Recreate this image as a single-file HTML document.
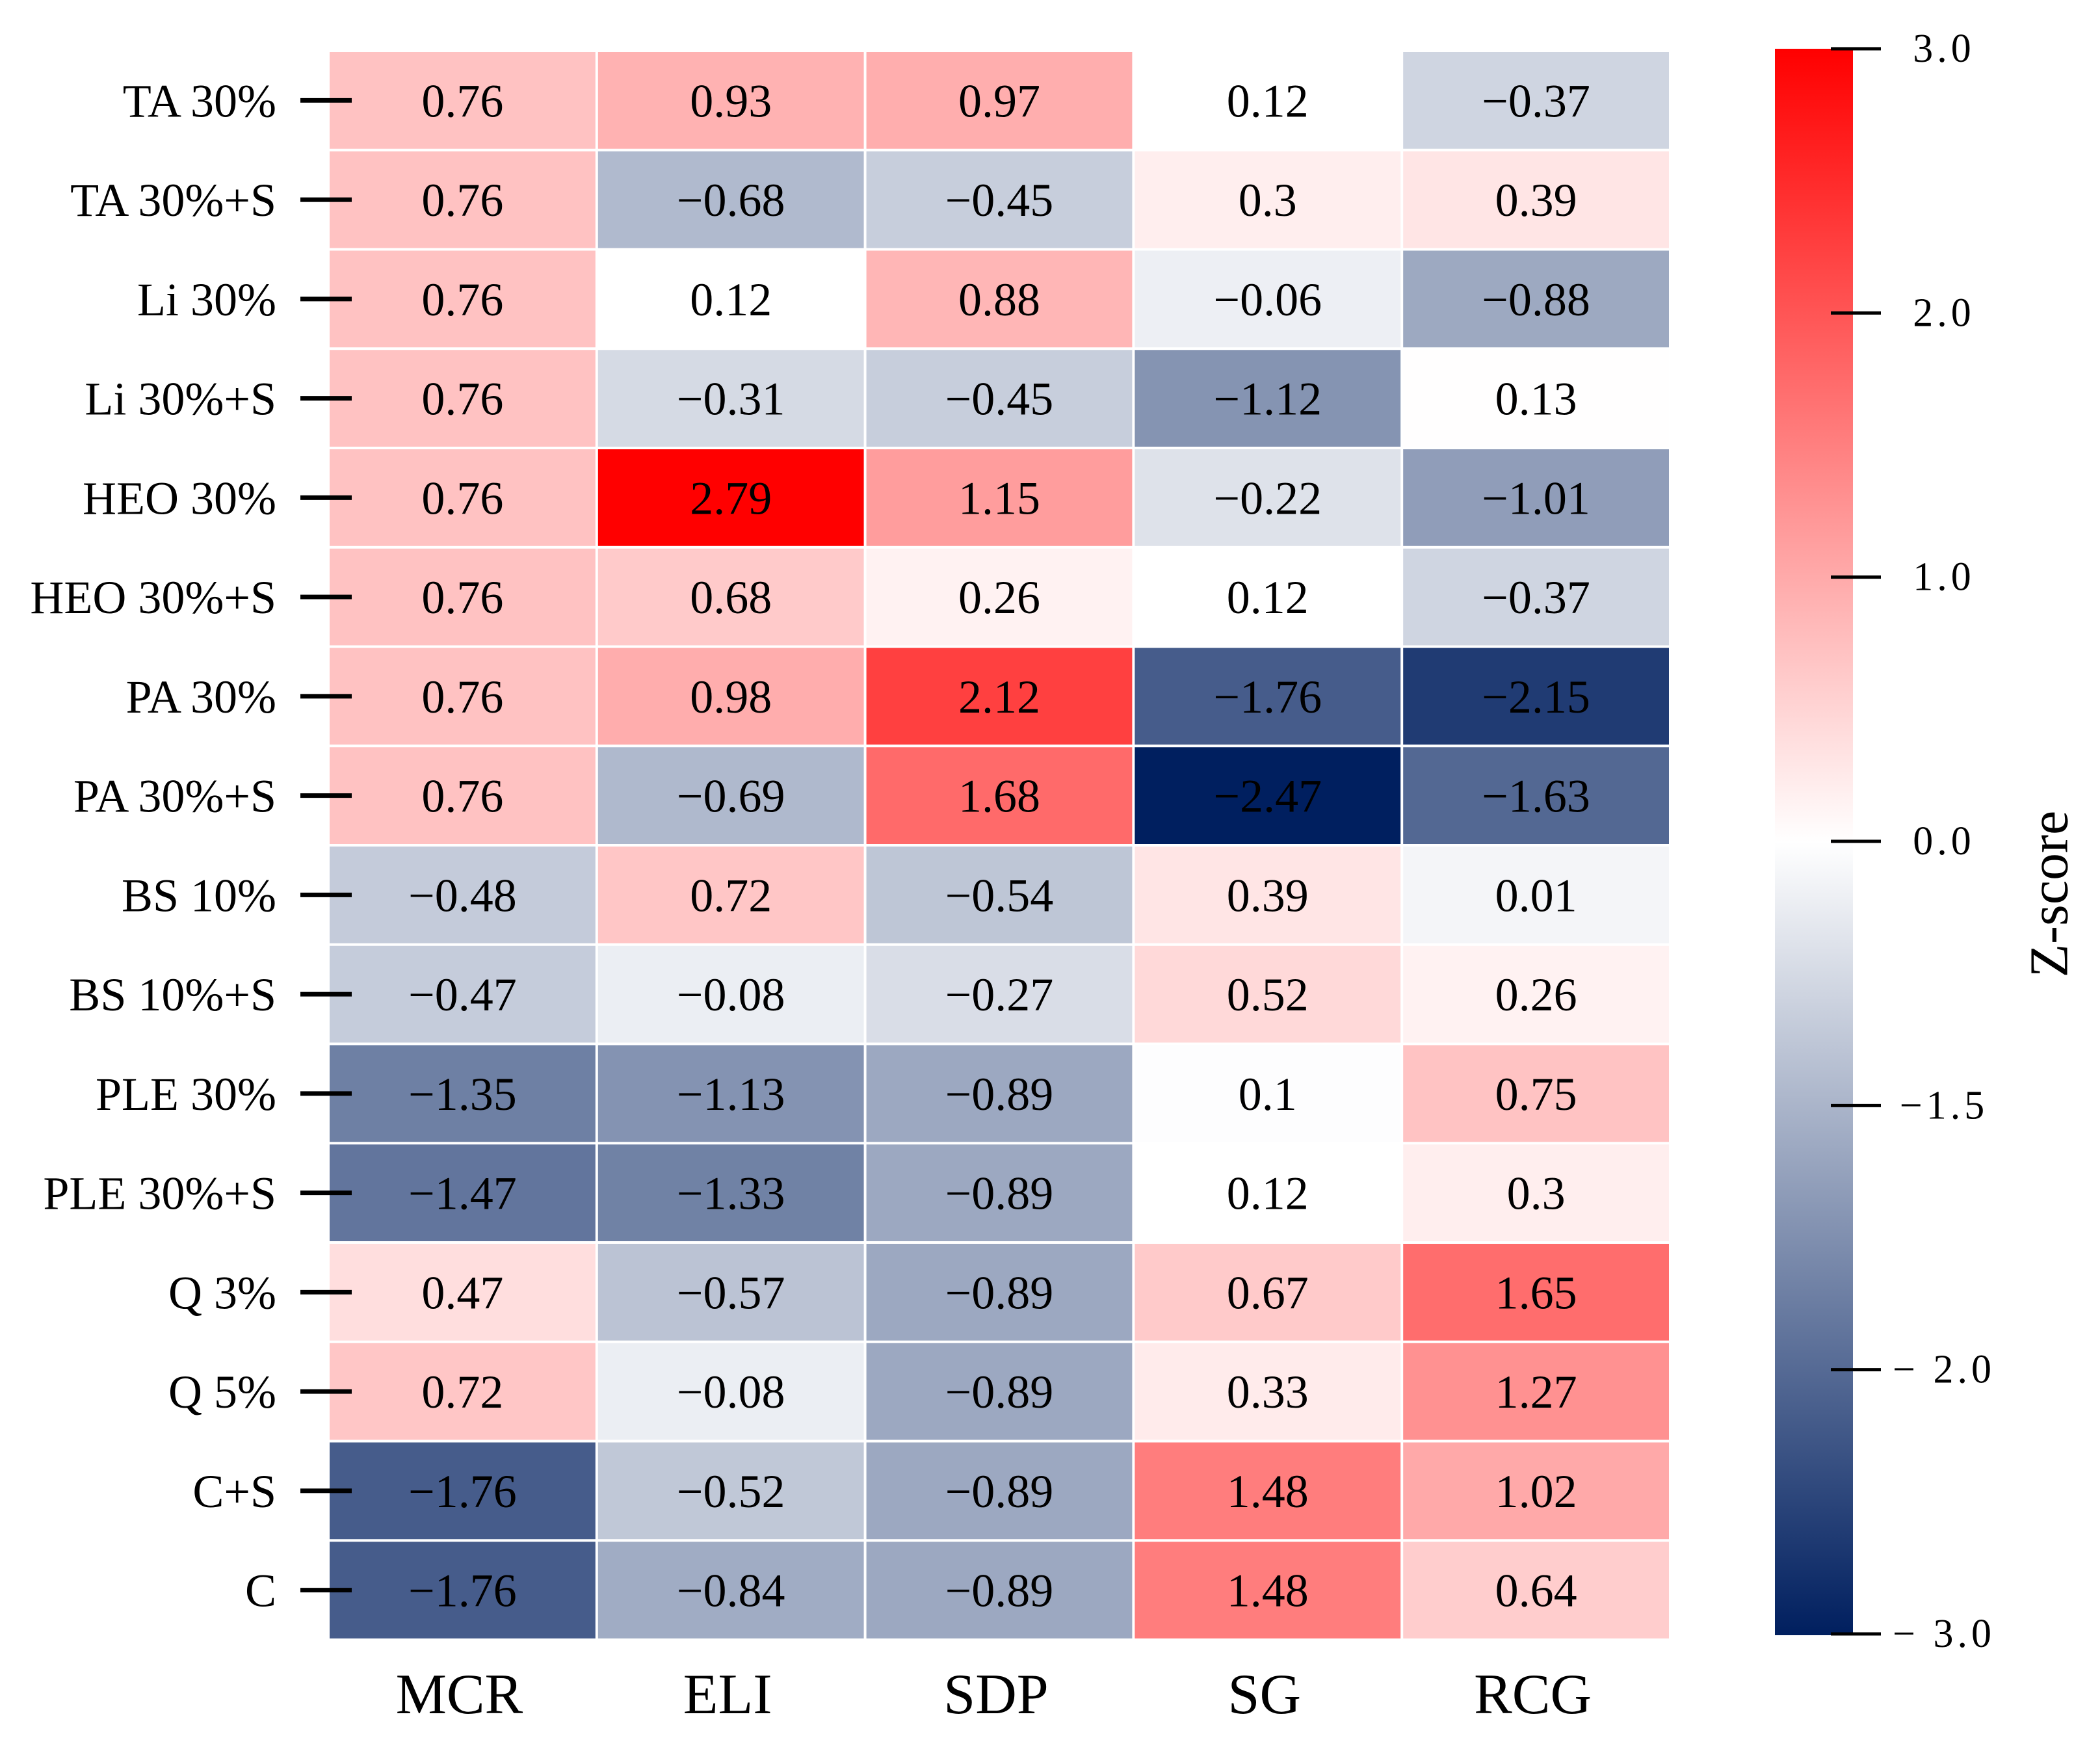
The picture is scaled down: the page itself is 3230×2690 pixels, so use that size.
<!DOCTYPE html>
<html><head><meta charset="utf-8"><style>
html,body{margin:0;padding:0;background:#fff;}
svg{display:block;font-family:"Liberation Serif","Times New Roman",serif;}
</style></head><body>
<svg id="chart" width="3230" height="2690" viewBox="0 0 3230 2690" xmlns="http://www.w3.org/2000/svg">
<defs>
<linearGradient id="cbar" x1="0" y1="1" x2="0" y2="0">
<stop offset="0" stop-color="#001f5f"/>
<stop offset="0.5" stop-color="#ffffff"/>
<stop offset="1" stop-color="#ff0000"/>
</linearGradient>
</defs>
<g id="cells"></g>
<g id="ylabels"></g>
<g id="xlabels"></g>
<g id="colorbar">
<rect x="2730" y="75" width="120" height="2440" fill="url(#cbar)"/>
</g>
<text x="3160" y="1375" font-size="84" text-anchor="middle" dominant-baseline="middle" transform="rotate(-90 3160 1375)">Z-score</text>
</svg>
<script>
const rows = ["TA 30%","TA 30%+S","Li 30%","Li 30%+S","HEO 30%","HEO 30%+S","PA 30%","PA 30%+S","BS 10%","BS 10%+S","PLE 30%","PLE 30%+S","Q 3%","Q 5%","C+S","C"];
const cols = ["MCR","ELI","SDP","SG","RCG"];
const colMCR = [0.76,0.76,0.76,0.76,0.76,0.76,0.76,0.76,-0.48,-0.47,-1.35,-1.47,0.47,0.72,-1.76,-1.76];
const colELI = [0.93,-0.68,0.12,-0.31,2.79,0.68,0.98,-0.69,0.72,-0.08,-1.13,-1.33,-0.57,-0.08,-0.52,-0.84];
const colSDP = [0.97,-0.45,0.88,-0.45,1.15,0.26,2.12,1.68,-0.54,-0.27,-0.89,-0.89,-0.89,-0.89,-0.89,-0.89];
const colSG = [0.12,0.3,-0.06,-1.12,-0.22,0.12,-1.76,-2.47,0.39,0.52,0.1,0.12,0.67,0.33,1.48,1.48];
const colRCG = [-0.37,0.39,-0.88,0.13,-1.01,-0.37,-2.15,-1.63,0.01,0.26,0.75,0.3,1.65,1.27,1.02,0.64];
const cbTicks = [3,2,1,0,-1,-2,-3];
const cbTickLabels = ["3.0","2.0","1.0","0.0","\u22121.5","\u2212 2.0","\u2212 3.0"];

const series = [colMCR,colELI,colSDP,colSG,colRCG];
const X0=505, X1=2569, Y0=78, Y1=2522;
const cw=(X1-X0)/cols.length, rh=(Y1-Y0)/rows.length;
const xPos = i => X0 + i*cw;
const yPos = j => Y0 + j*rh;
const all = series.flat();
const vmax = Math.max(...all), vmin = Math.min(...all);
const vc = 0.12;
function color(v){
  let r,g,b;
  if(v>=vc){const t=Math.min(1,(v-vc)/(vmax-vc)); r=255; g=255*(1-t); b=255*(1-t);}
  else {const t=Math.min(1,(v-vc)/(vmin-vc)); r=255*(1-t); g=255-224*t; b=255-160*t;}
  return `rgb(${Math.round(r)},${Math.round(g)},${Math.round(b)})`;
}
const NS="http://www.w3.org/2000/svg";
function mk(tag, attrs, parent){const e=document.createElementNS(NS,tag);for(const k in attrs)e.setAttribute(k,attrs[k]);parent.appendChild(e);return e;}
const fmt = v => (v<0?"\u2212":"")+String(Math.abs(v));
const cells=document.getElementById('cells');
series.forEach((s,i)=>{
  s.forEach((v,j)=>{
    const r=mk('rect',{x:xPos(i)+2,y:yPos(j)+2,width:cw-4,height:rh-4,fill:color(v)},cells);
    
    
    const t=mk('text',{x:xPos(i)+cw/2,y:yPos(j)+rh/2+25,'font-size':72,'text-anchor':'middle',fill:'#000'},cells);
    t.textContent=fmt(v);
    
    
  });
});
const yl=document.getElementById('ylabels');
rows.forEach((lab,j)=>{
  const yc=yPos(j)+rh/2;
  const tk=mk('line',{x1:462,x2:541,y1:yc,y2:yc,stroke:'#000','stroke-width':7},yl);
  
  
  const t=mk('text',{x:425,y:yc+25,'font-size':72,'text-anchor':'end'},yl);
  t.textContent=lab;
  
  
});
const xl=document.getElementById('xlabels');
cols.forEach((lab,i)=>{
  const t=mk('text',{x:xPos(i)+cw/2-5,y:2635,'font-size':88,'text-anchor':'middle'},xl);
  t.textContent=lab;
  
  
});
const cb=document.getElementById('colorbar');
const CB0=75, CB1=2513;
const cbY = v => CB1 - (v+3)/6*(CB1-CB0);
cbTicks.forEach((v,k)=>{
  const y=cbY(v);
  const l=mk('line',{x1:2816,x2:2893,y1:y,y2:y,stroke:'#000','stroke-width':5},cb);
  
  
  const t=mk('text',{x:2990,y:y+20,'font-size':62,'letter-spacing':6,'text-anchor':'middle'},cb);
  t.textContent=cbTickLabels[k];
  
  
});
</script>
</body></html>
